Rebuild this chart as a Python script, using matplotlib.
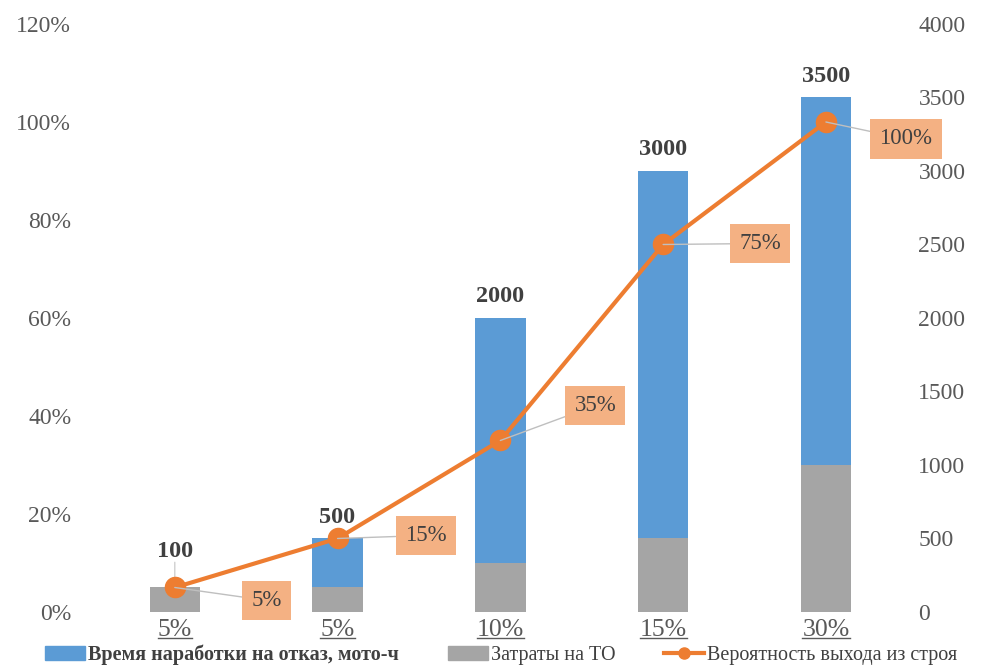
import matplotlib
matplotlib.use('Agg')
import matplotlib.pyplot as plt
from matplotlib.lines import Line2D
from matplotlib.patches import Patch

plt.rcParams['font.family'] = ['Liberation Serif', 'DejaVu Serif']

# categories are the maintenance cost shares
categories = ['5%', '5%', '10%', '15%', '30%']
hours_to_failure = [100, 500, 2000, 3000, 3500]        # мото-ч, right axis
maintenance_cost = [0.05, 0.05, 0.10, 0.15, 0.30]      # left axis
failure_prob = [0.05, 0.15, 0.35, 0.75, 1.00]          # left axis
prob_labels = ['5%', '15%', '35%', '75%', '100%']
# label offsets (pixels) for the call-outs
prob_offsets = [(92, -13), (88, 3), (95, 35), (97, 1), (80, -17)]
hour_offsets = [36, 21, 21, 21, 21]

left_ticks = [0, 0.2, 0.4, 0.6, 0.8, 1.0, 1.2]
left_ticklabels = ['0%', '20%', '40%', '60%', '80%', '100%', '120%']
right_ticks = list(range(0, 4001, 500))

blue = '#5B9BD5'
grey = '#A5A5A5'
orange = '#ED7D31'
box = '#F4B183'
txt = '#595959'

fig = plt.figure(figsize=(9.83, 6.72), dpi=100)
ax = fig.add_axes([0.095, 0.0893, 0.828, 0.875])
ax2 = ax.twinx()

x = list(range(len(categories)))
w = 0.31

# hours on the primary axes (drawn first, behind)
ax.bar(x, hours_to_failure, width=w, color=blue, zorder=2)
ax.set_ylim(0, 4000)
ax.set_yticks(right_ticks)
ax.yaxis.tick_right()
ax.tick_params(axis='y', length=0, labelsize=17, labelcolor=txt, pad=8)

# costs and probability on the twin axes, shown on the left
ax2.bar(x, maintenance_cost, width=w, color=grey, zorder=2)
ax2.plot(x, failure_prob, color=orange, linewidth=3, marker='o',
         markersize=14.5, zorder=4)
ax2.set_ylim(0, 1.2)
ax2.set_yticks(left_ticks)
ax2.set_yticklabels(left_ticklabels)
ax2.yaxis.tick_left()
ax2.tick_params(axis='y', length=0, labelsize=17, labelcolor=txt, pad=16)

ax.set_xlim(-0.5, len(categories) - 0.5)
ax.set_xticks(x)
ax.set_xticklabels(categories)
ax.tick_params(axis='x', length=0, labelsize=18.5, labelcolor=txt, pad=5)

for a in (ax, ax2):
    for s in a.spines.values():
        s.set_visible(False)

# bold value labels above the hour bars
for i, v in enumerate(hours_to_failure):
    top = max(v / 4000 * 1.2, maintenance_cost[i])
    ax2.annotate(str(v), xy=(i, top), xytext=(0, hour_offsets[i]),
                 textcoords='offset pixels', ha='center', va='center',
                 fontsize=17.5, fontweight='bold', color='#404040', zorder=5)
ax2.annotate('', xy=(0, hours_to_failure[0] / 4000 * 1.2), xytext=(0, 35),
             textcoords='offset pixels',
             arrowprops=dict(arrowstyle='-', color='#D0D0D0', lw=1,
                             shrinkA=0, shrinkB=0), zorder=1)

# probability call-outs
for i, (v, lab) in enumerate(zip(failure_prob, prob_labels)):
    dx, dy = prob_offsets[i]
    ax2.annotate(lab, xy=(i, v), xytext=(dx, dy), textcoords='offset pixels',
                 ha='center', va='center', fontsize=16.5, color='#404040',
                 bbox=dict(boxstyle='square,pad=0.4', fc=box, ec='none'),
                 arrowprops=dict(arrowstyle='-', color='#BFBFBF', lw=1,
                                 shrinkA=0, shrinkB=0),
                 zorder=5)

handles = [Patch(color=blue), Patch(color=grey),
           Line2D([], [], color=orange, lw=3, marker='o', markersize=8)]
names = ['Время наработки на отказ, мото-ч', 'Затраты на ТО',
         'Вероятность выхода из строя']
leg = fig.legend(handles, names, loc='lower center', ncol=3, frameon=False,
                 bbox_to_anchor=(0.51, -0.017), fontsize=14.5, handlelength=2.0,
                 handletextpad=0.15, columnspacing=2.4)
for t in leg.get_texts():
    t.set_color('#404040')
leg.get_texts()[0].set_fontweight('bold')

# underline the category labels
fig.canvas.draw()
r = fig.canvas.get_renderer()
inv = fig.transFigure.inverted()
for lab in ax.get_xticklabels():
    bb = lab.get_window_extent(r)
    (x0, y0), (x1, _) = inv.transform([(bb.x0, bb.y0 + 3), (bb.x1, bb.y0)])
    fig.add_artist(Line2D([x0, x1], [y0, y0], color=txt, lw=1,
                          transform=fig.transFigure))

fig.savefig('out.png', dpi=100)
